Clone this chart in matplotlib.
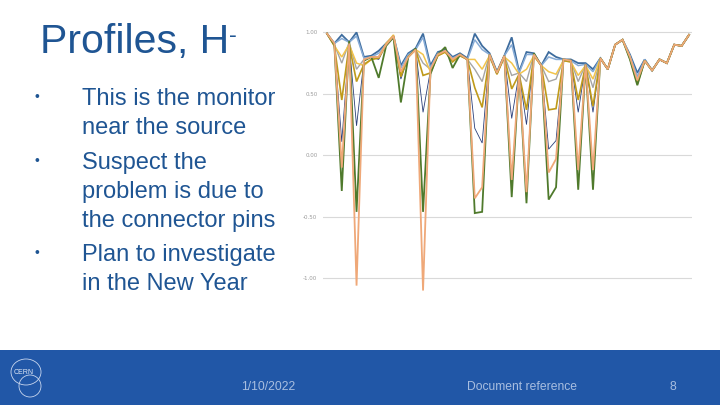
import numpy as np
import matplotlib
matplotlib.use("Agg")
import matplotlib.pyplot as plt
from matplotlib.patches import Rectangle, Ellipse

# Profile data (one value per monitor channel)
channels = list(range(50))

blue = [0.99, 0.91, 0.98, 0.92, 1.00, 0.80, 0.81, 0.85, 0.91, 0.97,
        0.73, 0.83, 0.87, 0.99, 0.73, 0.84, 0.86, 0.80, 0.83, 0.79,
        0.99, 0.89, 0.83, 0.68, 0.81, 0.96, 0.68, 0.84, 0.83, 0.73,
        0.84, 0.80, 0.78, 0.78, 0.75, 0.75, 0.70, 0.79, 0.70, 0.90,
        0.94, 0.82, 0.67, 0.78, 0.69, 0.78, 0.75, 0.90, 0.89, 0.98]
light_blue = [0.99, 0.91, 0.95, 0.92, 0.97, 0.79, 0.80, 0.83, 0.90, 0.97,
              0.71, 0.82, 0.86, 0.96, 0.71, 0.83, 0.85, 0.79, 0.82, 0.78,
              0.94, 0.86, 0.82, 0.67, 0.81, 0.90, 0.67, 0.82, 0.82, 0.73,
              0.80, 0.78, 0.78, 0.77, 0.73, 0.74, 0.68, 0.79, 0.70, 0.90,
              0.94, 0.81, 0.64, 0.78, 0.69, 0.78, 0.75, 0.90, 0.89, 0.98]
grey = [0.99, 0.90, 0.75, 0.92, 0.70, 0.78, 0.80, 0.80, 0.90, 0.96,
        0.66, 0.80, 0.86, 0.75, 0.70, 0.82, 0.85, 0.77, 0.82, 0.78,
        0.70, 0.60, 0.82, 0.67, 0.81, 0.65, 0.67, 0.60, 0.82, 0.73,
        0.60, 0.62, 0.78, 0.77, 0.60, 0.74, 0.55, 0.79, 0.70, 0.90,
        0.94, 0.80, 0.60, 0.77, 0.69, 0.78, 0.75, 0.90, 0.89, 0.98]
navy = [0.99, 0.90, 0.11, 0.91, 0.24, 0.77, 0.80, 0.78, 0.90, 0.96,
        0.62, 0.80, 0.86, 0.35, 0.69, 0.82, 0.85, 0.77, 0.82, 0.78,
        0.22, 0.10, 0.82, 0.67, 0.81, 0.30, 0.67, 0.25, 0.82, 0.73,
        0.05, 0.12, 0.78, 0.77, 0.35, 0.74, 0.35, 0.79, 0.70, 0.90,
        0.94, 0.80, 0.59, 0.77, 0.69, 0.78, 0.75, 0.90, 0.89, 0.98]
light_gold = [0.99, 0.89, 0.80, 0.90, 0.75, 0.73, 0.78, 0.80, 0.91, 0.98,
              0.66, 0.80, 0.86, 0.82, 0.68, 0.81, 0.84, 0.77, 0.81, 0.78,
              0.78, 0.70, 0.81, 0.66, 0.80, 0.75, 0.66, 0.70, 0.81, 0.73,
              0.68, 0.66, 0.77, 0.76, 0.65, 0.73, 0.62, 0.79, 0.70, 0.90,
              0.94, 0.80, 0.59, 0.77, 0.69, 0.78, 0.75, 0.90, 0.89, 0.98]
gold = [0.99, 0.89, 0.45, 0.90, 0.60, 0.74, 0.78, 0.79, 0.90, 0.97,
        0.64, 0.80, 0.86, 0.65, 0.67, 0.81, 0.84, 0.76, 0.81, 0.78,
        0.55, 0.39, 0.81, 0.66, 0.80, 0.54, 0.66, 0.37, 0.81, 0.73,
        0.37, 0.38, 0.77, 0.76, 0.45, 0.73, 0.40, 0.79, 0.70, 0.90,
        0.94, 0.79, 0.58, 0.77, 0.69, 0.78, 0.75, 0.90, 0.89, 0.98]
green = [0.99, 0.90, -0.29, 0.93, -0.46, 0.77, 0.80, 0.63, 0.89, 0.96,
         0.43, 0.80, 0.87, -0.46, 0.66, 0.82, 0.88, 0.71, 0.82, 0.78,
         -0.47, -0.46, 0.82, 0.67, 0.81, -0.34, 0.67, -0.39, 0.83, 0.73,
         -0.36, -0.26, 0.78, 0.77, -0.28, 0.74, -0.28, 0.79, 0.70, 0.90,
         0.94, 0.78, 0.57, 0.77, 0.69, 0.78, 0.75, 0.90, 0.89, 0.98]
orange = [0.99, 0.91, -0.10, 0.91, -1.06, 0.78, 0.80, 0.80, 0.90, 0.97,
          0.68, 0.80, 0.86, -1.10, 0.70, 0.82, 0.85, 0.78, 0.82, 0.78,
          -0.35, -0.26, 0.82, 0.67, 0.81, -0.20, 0.67, -0.30, 0.82, 0.73,
          -0.14, -0.03, 0.78, 0.77, -0.12, 0.74, -0.12, 0.79, 0.70, 0.90,
          0.94, 0.80, 0.61, 0.77, 0.69, 0.78, 0.75, 0.90, 0.89, 0.98]

y_ticks = [1.0, 0.5, 0.0, -0.5, -1.0]
y_tick_labels = ["1.00", "0.50", "0.00", "-0.50", "-1.00"]

bullets = [["This is the monitor", "near the source"],
           ["Suspect the", "problem is due to", "the connector pins"],
           ["Plan to investigate", "in the New Year"]]

text_blue = "#1F5593"

fig = plt.figure(figsize=(7.2, 4.05), dpi=100)
fig.patch.set_facecolor("white")

# Title and bullets
fig.text(40 / 720, 1 - 42 / 405, "Profiles, H", fontsize=29.5, color=text_blue,
         family="Liberation Sans", va="center", ha="left")
fig.text(229 / 720, 1 - 36 / 405, "-", fontsize=17, color=text_blue,
         family="Liberation Sans", va="center", ha="left")

bullet_y = [97, 161, 253]
line_pitch = 29
for y, lines in zip(bullet_y, bullets):
    fig.text(37 / 720, 1 - y / 405, "\u2022", fontsize=10, color=text_blue,
             family="Liberation Sans", va="center", ha="center")
    for k, line in enumerate(lines):
        base = y + 8 + k * line_pitch
        fig.text(82 / 720, 1 - base / 405, line, fontsize=17, color=text_blue,
                 family="Liberation Sans", va="baseline", ha="left")

# Chart
ax = fig.add_axes([323 / 720, 1 - 293 / 405, 369 / 720, 268 / 405])
series = [
    (blue, "#3D6C9E", 1.3),
    (light_blue, "#86ABD6", 1.1),
    (grey, "#A5A5A5", 1.0),
    (navy, "#2B3F7A", 0.6),
    (light_gold, "#F2C44C", 1.1),
    (gold, "#BF9A1A", 1.2),
    (green, "#4F7A2C", 1.3),
    (orange, "#EFA878", 1.3),
]
for values, color, lw in series:
    ax.plot(channels, values, color=color, lw=lw, solid_joinstyle="miter")

ax.set_xlim(-0.54, 49.4)
ax.set_ylim(-1.12, 1.06)
ax.set_yticks(y_ticks)
ax.set_yticklabels(y_tick_labels)
ax.set_xticks([])
ax.grid(axis="y", color="#D9D9D9", lw=0.8)
ax.set_axisbelow(True)
ax.tick_params(axis="y", length=0, labelsize=4, labelcolor="#9A9A9A", pad=4)
for side in ax.spines.values():
    side.set_visible(False)

# Footer band
fig.patches.append(Rectangle((0, 0), 1, 55 / 405, transform=fig.transFigure,
                             facecolor="#2157A7", edgecolor="none", zorder=0))
foot_y = 1 - 387 / 405
fig.text(268 / 720, foot_y, "1/10/2022", fontsize=8.7, color="#A8BEE0",
         family="Liberation Sans", ha="center", va="center")
fig.text(522 / 720, foot_y, "Document reference", fontsize=8.7, color="#A8BEE0",
         family="Liberation Sans", ha="center", va="center")
fig.text(673 / 720, foot_y, "8", fontsize=8.7, color="#A8BEE0",
         family="Liberation Sans", ha="center", va="center")

# rough CERN logo
logo = fig.add_axes([6 / 720, 1 - 402 / 405, 42 / 720, 48 / 405], zorder=3)
logo.set_xlim(0, 42)
logo.set_ylim(0, 48)
logo.axis("off")
logo.add_patch(Ellipse((20, 30), 30, 26, fill=False, ec="#C8D6EE", lw=0.6))
logo.add_patch(Ellipse((24, 16), 22, 22, fill=False, ec="#C8D6EE", lw=0.6))
logo.text(18, 30, "CERN", fontsize=5, color="#E0E8F5", ha="center", va="center",
          family="Liberation Sans")

fig.savefig("out.png", dpi=100, facecolor="white")
